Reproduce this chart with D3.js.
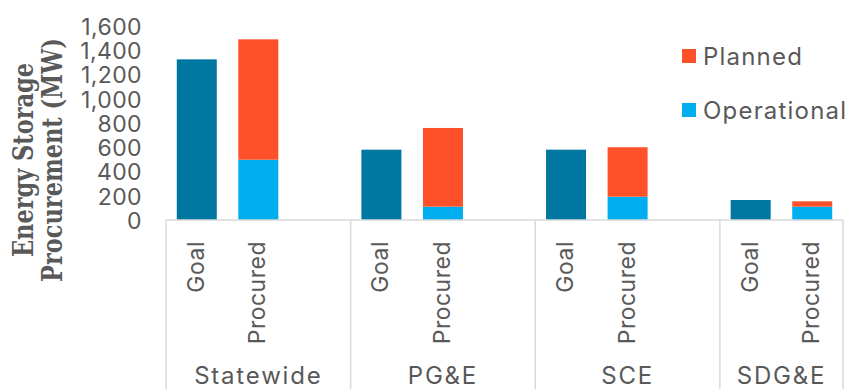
<!DOCTYPE html>
<html>
<head>
<meta charset="utf-8">
<script src="https://cdn.jsdelivr.net/npm/d3@7"></script>
<style>
  html, body { margin: 0; padding: 0; background: #fff; }
  svg { display: block; }
  text { font-family: Inter, "Open Sans", sans-serif; fill: #595959; }
</style>
</head>
<body>
<svg id="chart" width="849" height="389"></svg>
<script>
// ---- data ----
const groups = ["Statewide", "PG&E", "SCE", "SDG&E"];
const subCategories = ["Goal", "Procured"];
const goalMW = [1325, 580, 580, 165];
const operationalMW = [497, 110, 192, 110];
const plannedMW = [993, 649, 408, 44];
const yTicks = [0, 200, 400, 600, 800, 1000, 1200, 1400, 1600];
const seriesNames = ["Planned", "Operational"];
const yTitle = ["Energy Storage", "Procurement (MW)"];

// ---- layout ----
const colors = { goal: "#0077A1", Operational: "#00AEEF", Planned: "#FF5129" };
const W = 849, H = 389;
const plot = { left: 166, right: 843, top: 26, bottom: 220 };
const svg = d3.select("#chart");

// slots: Goal, Procured, and a blank spacer for all but the last group
const slots = [];
groups.forEach((g, i) => {
  subCategories.forEach(s => slots.push(g + "|" + s));
  if (i < groups.length - 1) slots.push(g + "|blank");
});

const x = d3.scaleBand().domain(slots).range([plot.left, plot.right])
  .paddingInner(0.35).paddingOuter(0.175);
const y = d3.scaleLinear().domain([0, 1600]).range([plot.bottom, plot.top]);
const step = x.step();

// y axis labels
const yAxis = d3.axisLeft(y).tickValues(yTicks).tickSize(0).tickPadding(24)
  .tickFormat(d3.format(","));
const ya = svg.append("g").attr("transform", `translate(${plot.left},0)`).call(yAxis);
ya.select(".domain").remove();
ya.selectAll("text").style("font-family", "Inter, sans-serif").style("font-size", "23px")
  .style("letter-spacing", "0.4px")
  .style("fill", "#595959").attr("dy", "0.36em");

// y title
const yt = svg.append("text")
  .attr("transform", `translate(0,160) rotate(-90)`)
  .attr("text-anchor", "middle")
  .style("font-family", "'DejaVu Serif', 'Liberation Serif', serif").style("font-weight", "bold")
  .style("font-size", "28px");
yt.append("tspan").attr("x", 0).attr("y", 33).text(yTitle[0]);
const t2 = yt.append("tspan").attr("x", 0).attr("y", 62).text(yTitle[1]);
// fit the second line to the reference length (~244px) by horizontal scaling
const len = t2.node().getComputedTextLength();
if (len > 0) yt.attr("transform", `translate(0,160) rotate(-90) scale(${(244 / len).toFixed(4)},1)`);

// bars
const bars = svg.append("g");
groups.forEach((g, i) => {
  bars.append("rect")
    .attr("x", x(g + "|Goal")).attr("width", x.bandwidth())
    .attr("y", y(goalMW[i])).attr("height", y(0) - y(goalMW[i]))
    .attr("fill", colors.goal);
  bars.append("rect")
    .attr("x", x(g + "|Procured")).attr("width", x.bandwidth())
    .attr("y", y(operationalMW[i])).attr("height", y(0) - y(operationalMW[i]))
    .attr("fill", colors.Operational);
  const tot = operationalMW[i] + plannedMW[i];
  bars.append("rect")
    .attr("x", x(g + "|Procured")).attr("width", x.bandwidth())
    .attr("y", y(tot)).attr("height", y(operationalMW[i]) - y(tot))
    .attr("fill", colors.Planned);
});

// category axis lines
const axisG = svg.append("g").attr("stroke", "#d9d9d9").attr("stroke-width", 1.5);
axisG.append("line").attr("x1", plot.left).attr("x2", plot.right)
  .attr("y1", y(0)).attr("y2", y(0));
const boundaries = [];
groups.forEach((g, i) => boundaries.push(plot.left + slots.indexOf(g + "|Goal") * step));
boundaries.push(plot.right);
boundaries.forEach(b => axisG.append("line").attr("x1", b).attr("x2", b)
  .attr("y1", y(0)).attr("y2", H));

// inner labels
groups.forEach((g, i) => {
  subCategories.forEach(s => {
    const cx = x(g + "|" + s) + x.bandwidth() / 2;
    svg.append("text")
      .attr("transform", `translate(${cx + 7},${y(0) + 21}) rotate(-90)`)
      .attr("text-anchor", "end")
      .style("font-size", "23px").style("letter-spacing", "0.5px")
      .text(s);
  });
  // group label
  const gx0 = boundaries[i], gx1 = boundaries[i + 1];
  svg.append("text").attr("x", (gx0 + gx1) / 2).attr("y", 384)
    .attr("text-anchor", "middle").style("font-size", "24px").style("letter-spacing", "1.8px")
    .text(g);
});

// legend
const legend = svg.append("g");
seriesNames.forEach((n, i) => {
  const ly = 56 + i * 54;
  legend.append("rect").attr("x", 682).attr("y", ly - 7).attr("width", 14).attr("height", 14)
    .attr("fill", colors[n]);
  legend.append("text").attr("x", 703).attr("y", ly).attr("dy", "0.36em")
    .style("font-size", "24px").style("letter-spacing", "1.2px").text(n);
});
</script>
</body>
</html>
